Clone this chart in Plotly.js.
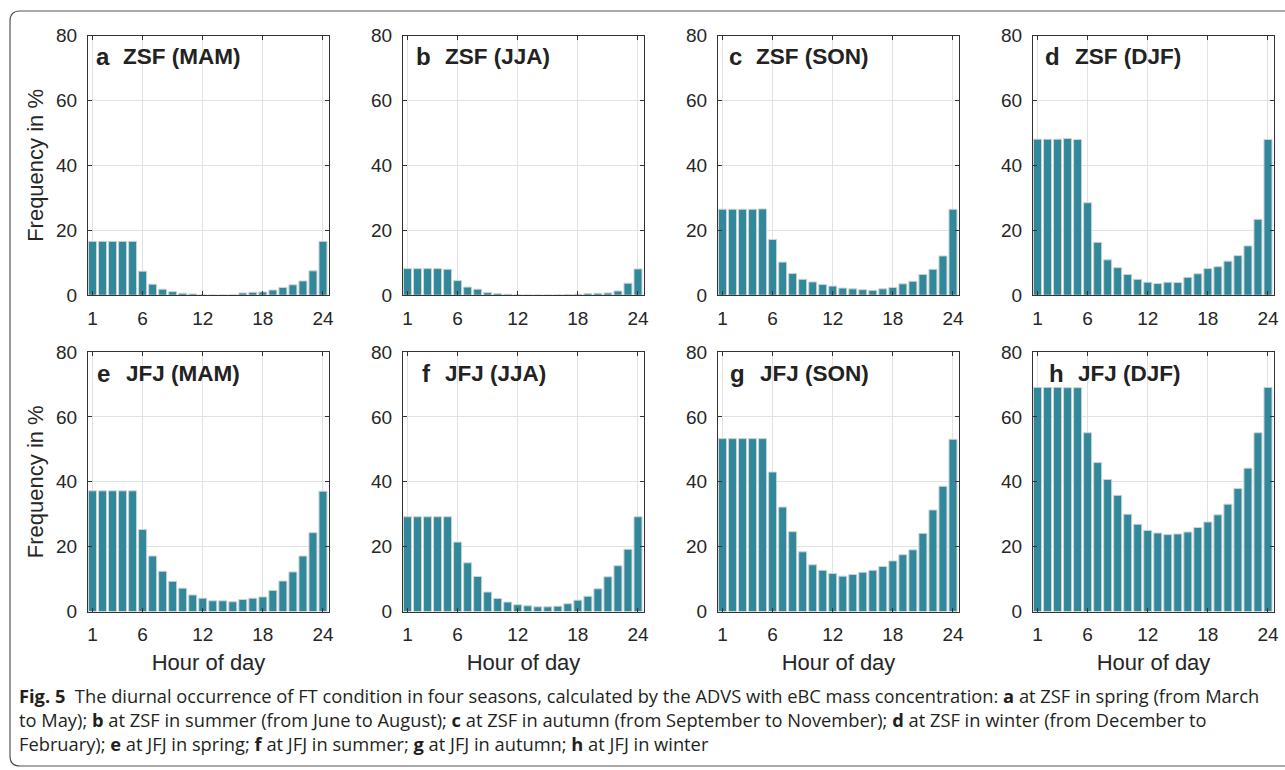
<!DOCTYPE html>
<html>
<head>
<meta charset="utf-8">
<script src="https://cdn.plot.ly/plotly-3.0.1.min.js"></script>
<style>html,body{margin:0;padding:0;background:#fff;}#chart{width:1285px;height:770px;}</style>
</head>
<body>
<div id="chart"></div>
<script>
// ---- data ----
const hours = [1,2,3,4,5,6,7,8,9,10,11,12,13,14,15,16,17,18,19,20,21,22,23,24];
const xTickVals = [1, 6, 12, 18, 24];
const yTickVals = [0, 20, 40, 60, 80];

const zsfMAM = [16.6,16.6,16.6,16.6,16.6,7.4,3.4,1.85,1.1,0.6,0.4,0.1,0.05,0.05,0.1,0.7,0.9,1.0,1.6,2.4,3.2,4.4,7.5,16.6];
const zsfJJA = [8.2,8.2,8.2,8.2,8.0,4.5,2.5,1.85,0.8,0.5,0.3,0.1,0.05,0.05,0.05,0.1,0.2,0.3,0.5,0.6,0.7,1.3,3.7,8.1];
const zsfSON = [26.5,26.5,26.5,26.5,26.6,17.2,10.2,6.7,4.9,4.1,3.3,2.8,2.2,1.95,1.7,1.5,1.95,2.4,3.5,4.3,6.4,8.0,12.1,26.5];
const zsfDJF = [48.1,48.1,48.1,48.3,48.0,28.5,16.3,10.9,8.5,6.4,4.9,4.0,3.6,4.0,3.9,5.5,6.6,8.2,8.8,10.5,12.2,15.2,23.4,48.0];
const jfjMAM = [37.2,37.2,37.2,37.2,37.2,25.3,17.1,12.4,9.3,7.2,5.1,4.1,3.3,3.3,3.0,3.7,4.1,4.5,6.5,9.4,12.2,17.1,24.3,37.1];
const jfjJJA = [29.2,29.2,29.2,29.2,29.2,21.4,15.0,10.8,6.0,4.0,2.9,2.1,1.75,1.45,1.45,1.65,2.4,3.5,4.7,7.0,10.7,14.1,19.2,29.2];
const jfjSON = [53.3,53.3,53.3,53.3,53.3,43.0,32.2,24.6,18.4,14.4,12.7,11.7,10.9,11.4,12.1,12.7,13.9,15.6,17.5,19.0,24.1,31.3,38.6,53.1];
const jfjDJF = [69.1,69.1,69.1,69.0,69.0,55.1,45.9,40.7,35.8,30.0,26.9,25.0,24.2,23.7,23.9,24.5,25.9,27.6,29.8,33.1,37.9,44.2,55.1,69.1];

const panelLetters = ['a','b','c','d','e','f','g','h'];
const panelNames = ['ZSF (MAM)','ZSF (JJA)','ZSF (SON)','ZSF (DJF)','JFJ (MAM)','JFJ (JJA)','JFJ (SON)','JFJ (DJF)'];
const panelSeries = [zsfMAM, zsfJJA, zsfSON, zsfDJF, jfjMAM, jfjJJA, jfjSON, jfjDJF];

const yTitle = 'Frequency in %';
const xTitle = 'Hour of day';
const captionLines = [
  '<b>Fig. 5</b>  The diurnal occurrence of FT condition in four seasons, calculated by the ADVS with eBC mass concentration: <b>a</b> at ZSF in spring (from March',
  'to May); <b>b</b> at ZSF in summer (from June to August); <b>c</b> at ZSF in autumn (from September to November); <b>d</b> at ZSF in winter (from December to',
  'February); <b>e</b> at JFJ in spring; <b>f</b> at JFJ in summer; <b>g</b> at JFJ in autumn; <b>h</b> at JFJ in winter'
];

// ---- layout geometry (pixels) ----
const W = 1285, H = 770;
const px = x => x / W;
const py = y => 1 - y / H;
const colLeft = [88, 403, 718, 1033];
const colWidth = 241;
const rowTop = [35.7, 352];
const rowHeight = 259.5;
const letterX = [94, 414, 727, 1043, 95, 420, 728, 1047];
const nameX = [121, 443, 754, 1073, 124, 443, 758, 1076];
const labelY = [56.5, 373];

const FONT = 'Liberation Sans, Arial, Helvetica, sans-serif';
const barColor = '#31889b';
const edgeColor = '#cfd3d4';
const axisColor = '#333333';
const textColor = '#262626';

const data = [];
const layout = {
  width: W, height: H,
  margin: {l: 0, r: 0, t: 0, b: 0},
  paper_bgcolor: '#ffffff',
  plot_bgcolor: '#ffffff',
  showlegend: false,
  bargap: 0.2,
  font: {family: FONT, color: textColor, size: 19},
  annotations: [],
  shapes: []
};

panelSeries.forEach((vals, i) => {
  const r = Math.floor(i / 4), c = i % 4;
  const sfx = i === 0 ? '' : String(i + 1);
  data.push({
    type: 'bar', x: hours, y: vals,
    xaxis: 'x' + sfx, yaxis: 'y' + sfx,
    width: 0.8,
    marker: {color: barColor, line: {color: edgeColor, width: 1}},
    hoverinfo: 'x+y'
  });
  const xa = {
    domain: [px(colLeft[c]), px(colLeft[c] + colWidth)],
    anchor: 'y' + sfx,
    range: [0.55, 24.6],
    tickvals: xTickVals,
    ticktext: xTickVals.map(String),
    ticks: 'inside', ticklen: 4, tickcolor: axisColor, tickwidth: 1,
    showline: true, linecolor: axisColor, linewidth: 1, mirror: 'allticks',
    showgrid: true, gridcolor: '#e2e2e2', gridwidth: 1,
    zeroline: false,
    tickfont: {family: FONT, size: 19, color: textColor},
    ticklabelstandoff: 6,
    fixedrange: true
  };
  if (r === 1) {
    xa.title = {text: xTitle, font: {family: FONT, size: 22, color: textColor}, standoff: 10};
  }
  const ya = {
    domain: [py(rowTop[r] + rowHeight), py(rowTop[r])],
    anchor: 'x' + sfx,
    range: [0, 80],
    tickvals: yTickVals,
    ticks: 'inside', ticklen: 4, tickcolor: axisColor, tickwidth: 1,
    showline: true, linecolor: axisColor, linewidth: 1, mirror: 'allticks',
    showgrid: true, gridcolor: '#e2e2e2', gridwidth: 1,
    zeroline: false,
    tickfont: {family: FONT, size: 19, color: textColor},
    ticklabelstandoff: 6,
    fixedrange: true
  };
  if (c === 0) {
    ya.title = {text: yTitle, font: {family: FONT, size: 22, color: textColor}, standoff: 6};
  }
  layout['xaxis' + sfx] = xa;
  layout['yaxis' + sfx] = ya;

  layout.annotations.push({
    xref: 'paper', yref: 'paper', x: px(letterX[i]), y: py(labelY[r]),
    xanchor: 'left', yanchor: 'middle', showarrow: false,
    text: '<b>' + panelLetters[i] + '</b>',
    font: {family: FONT, size: 24, color: '#222222'}
  });
  layout.annotations.push({
    xref: 'paper', yref: 'paper', x: px(nameX[i]), y: py(labelY[r]),
    xanchor: 'left', yanchor: 'middle', showarrow: false,
    text: '<b>' + panelNames[i] + '</b>',
    font: {family: FONT, size: 22.5, color: '#222222'}
  });
});

// caption as one multi-line text block
layout.annotations.push({
  xref: 'paper', yref: 'paper', x: px(17), y: py(719),
  xanchor: 'left', yanchor: 'middle', showarrow: false, align: 'left',
  text: captionLines.join('<br>'),
  font: {family: 'Open Sans, Noto Sans, sans-serif', size: 18.3, color: '#231f20'}
});

// rounded frame
const L = 10, T = 11, R = 1300, B = 766, rad = 10;
const pt = (x, y) => px(x).toFixed(5) + ',' + py(y).toFixed(5);
layout.shapes.push({
  type: 'path', xref: 'paper', yref: 'paper',
  path: 'M' + pt(L, T + rad) + ' Q' + pt(L, T) + ' ' + pt(L + rad, T) +
        ' L' + pt(R, T) + ' L' + pt(R, B) + ' L' + pt(L + rad, B) +
        ' Q' + pt(L, B) + ' ' + pt(L, B - rad) + ' Z',
  line: {color: '#555555', width: 1.2}, fillcolor: 'rgba(0,0,0,0)', layer: 'below'
});

Plotly.newPlot('chart', data, layout, {displayModeBar: false, staticPlot: true});
</script>
</body>
</html>
